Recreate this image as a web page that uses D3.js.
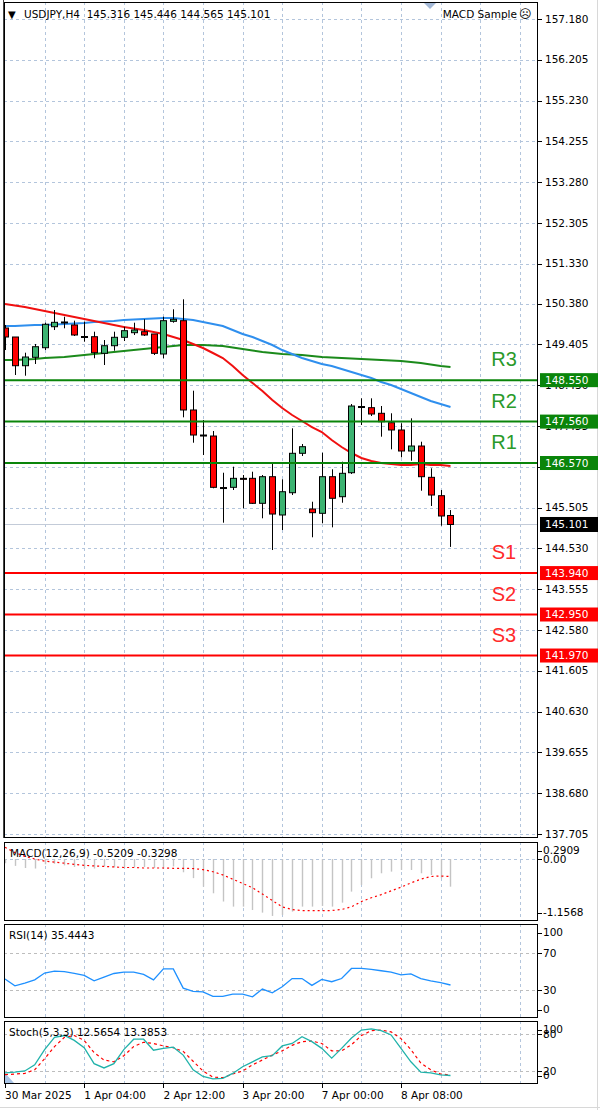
<!DOCTYPE html>
<html><head><meta charset="utf-8">
<script src="https://cdn.jsdelivr.net/npm/d3@7"></script>
<style>
body{margin:0;background:#fff;}
svg{display:block;font-family:"DejaVu Sans",sans-serif;}
</style></head><body>
<svg id="c" width="600" height="1110"></svg>
<script>
// ---------- DATA ----------
const titleText = "USDJPY,H4  145.316 145.446 144.565 145.101";
const expertText = "MACD Sample";
const openP  = [149.796,149.581,148.895,149.096,149.325,149.827,149.916,149.868,149.593,149.588,149.191,149.373,149.574,149.684,149.708,149.653,149.175,149.956,149.971,147.837,147.239,147.215,145.984,145.989,146.204,146.204,145.607,146.243,145.328,145.860,146.802,145.471,145.368,146.243,145.765,146.338,147.920,147.892,147.758,147.533,147.359,146.857,146.976,146.228,145.789,145.316];
const highP  = [149.868,149.581,149.206,149.414,149.923,150.226,150.066,149.971,149.947,149.708,149.509,149.708,149.827,149.923,150.004,149.653,150.066,150.243,150.482,148.298,147.598,147.335,146.338,146.482,146.283,146.362,146.283,146.546,146.181,147.399,147.024,145.645,146.816,146.420,146.601,147.980,148.116,148.116,147.932,147.758,147.519,147.638,147.079,146.444,145.925,145.446];
const lowP   = [149.270,148.673,148.656,148.936,149.270,149.748,149.789,149.605,149.469,149.072,148.912,149.254,149.485,149.629,149.605,149.151,149.072,149.923,147.662,147.055,146.761,145.966,145.144,145.925,145.488,145.590,145.249,144.491,144.969,145.805,146.737,144.795,145.129,145.033,145.621,146.307,147.478,147.693,147.199,146.897,146.706,146.625,145.908,145.543,145.072,144.565];
const closeP = [149.581,148.895,149.103,149.349,149.885,149.932,149.940,149.629,149.588,149.206,149.373,149.574,149.732,149.748,149.629,149.191,149.971,150.004,147.837,147.239,147.227,145.989,145.973,146.204,146.200,145.607,146.243,145.351,145.884,146.802,146.960,145.383,146.243,145.727,146.324,147.932,147.916,147.741,147.557,147.359,146.857,146.976,146.243,145.805,145.304,145.101];

const maRed   = [150.370,150.334,150.298,150.250,150.202,150.155,150.107,150.059,150.011,149.963,149.916,149.868,149.820,149.784,149.748,149.701,149.653,149.581,149.509,149.414,149.318,149.199,149.079,148.888,148.673,148.482,148.291,148.076,147.884,147.717,147.574,147.430,147.311,147.120,146.952,146.809,146.690,146.618,146.570,146.546,146.522,146.522,146.546,146.522,146.522,146.499];
const maBlue  = [149.844,149.844,149.856,149.868,149.868,149.880,149.892,149.904,149.916,149.939,149.951,149.963,149.987,149.999,150.011,150.023,150.035,150.035,150.011,149.987,149.939,149.892,149.844,149.748,149.653,149.581,149.485,149.390,149.270,149.175,149.079,149.008,148.936,148.888,148.816,148.745,148.673,148.601,148.506,148.434,148.338,148.243,148.147,148.052,147.980,147.908];
const maGreen = [149.031,149.031,149.043,149.055,149.079,149.091,149.103,149.127,149.151,149.175,149.199,149.223,149.246,149.270,149.294,149.318,149.342,149.366,149.390,149.390,149.390,149.378,149.366,149.330,149.294,149.258,149.223,149.199,149.175,149.163,149.151,149.127,149.103,149.091,149.079,149.067,149.055,149.043,149.031,149.019,149.007,148.984,148.960,148.924,148.888,148.864];

const priceTicks = ["157.180","156.205","155.230","154.255","153.280","152.305","151.330","150.380","149.405","148.430","147.455","146.480","145.505","144.530","143.555","142.580","141.605","140.630","139.655","138.680","137.705"];
const priceMin = 137.705, priceMax = 157.180;
const lastPrice = 145.101;

const levelNames  = ["R3","R2","R1","S1","S2","S3"];
const levelValues = [148.550,147.560,146.570,143.940,142.950,141.970];
const levelKinds  = ["r","r","r","s","s","s"];

const dateLabels = ["30 Mar 2025","1 Apr 04:00","2 Apr 12:00","3 Apr 20:00","7 Apr 00:00","8 Apr 08:00"];
const dateBars   = [0,8,16,24,32,40];

const macdLabel = "MACD(12,26,9) -0.5209 -0.3298";
const macdHist = [-0.08,-0.13,-0.17,-0.18,-0.10,-0.09,-0.12,-0.15,-0.17,-0.18,-0.14,-0.16,-0.17,-0.16,-0.15,-0.17,-0.16,-0.14,-0.25,-0.36,-0.52,-0.645,-0.80,-0.896,-0.896,-0.959,-1.009,-1.071,-1.053,-0.99,-0.896,-0.896,-0.883,-0.896,-0.821,-0.614,-0.489,-0.363,-0.269,-0.238,-0.207,-0.207,-0.269,-0.301,-0.363,-0.5209];
const macdSignal = [0.22,0.12,0.05,0.0,-0.04,-0.06,-0.08,-0.10,-0.12,-0.13,-0.14,-0.15,-0.16,-0.16,-0.17,-0.17,-0.17,-0.175,-0.175,-0.18,-0.20,-0.24,-0.30,-0.38,-0.46,-0.54,-0.66,-0.78,-0.90,-0.95,-0.97,-0.97,-0.97,-0.97,-0.95,-0.90,-0.80,-0.73,-0.67,-0.60,-0.53,-0.45,-0.38,-0.33,-0.32,-0.3298];
const macdTicks = ["0.2909","0.00","-1.1568"];
const macdMin = -1.1568, macdMax = 0.2909;

const rsiLabel = "RSI(14) 35.4443";
const rsiValues = [42,34.5,37.5,41,48.5,50.5,50,48,46,40,44,48,49.5,49.5,47,41,53,53,32,28.5,28,23,23,25.5,25.5,22.5,31,27,33.5,42.5,42.5,35,41.5,39,42.5,53.5,53.5,52.5,51,49.5,46.5,47.5,42.5,40,38,35.4443];
const rsiTicks = ["100","70","30","0"];

const stochLabel = "Stoch(5,3,3) 12.5654 13.3853";
const stochMain = [17,18,20,30,55,75,78,70,58,32,25,32,55,72,72,54,57,59,46,22,11,7,8,16,27,35,43,45,61,65,76,68,57,41,57,74,87,89,86,79,57,35,18,17,13.5,12.5654];
const stochSignal = [14,15,16,22,40,60,75,78,70,50,38,35,45,60,67,65,61,58,52,36,20,10,9,15,20,30,38,46,53,62,68,69,65,53,53,63,78,86,87,84,73,55,33,22,15,13.3853];
const stochTicks = ["100","80","20","0"];

// ---------- LAYOUT ----------
const svg = d3.select("#c");
const L = 4, R = 538;
const main = {top:2, bottom:838};
const pMacd = {top:842, bottom:921};
const pRsi = {top:924, bottom:1018};
const pSto = {top:1021, bottom:1084};

const x = d3.scaleLinear().domain([0,52]).range([5,519.8]);
const y = d3.scaleLinear().domain([priceMin, priceMax]).range([834,19]);
const yM = d3.scaleLinear().domain([macdMin, macdMax]).range([920.5,843.5]);
const yR = d3.scaleLinear().domain([0,100]).range([1017.5,925.8]);
const yS = d3.scaleLinear().domain([0,100]).range([1083.2,1022.1]);

const gridCol = "#b3c5dc";
const defs = svg.append("defs");
function clip(id, p){ defs.append("clipPath").attr("id",id).append("rect").attr("x",L).attr("y",p.top).attr("width",R-L).attr("height",p.bottom-p.top); }
clip("cMain", main); clip("cMacd", pMacd); clip("cRsi", pRsi); clip("cSto", pSto);

svg.append("rect").attr("width",600).attr("height",1110).attr("fill","#fff");

const vBars = d3.range(4,53,4);
[main,pMacd,pRsi,pSto].forEach(p=>{
  svg.append("g").selectAll("line").data(vBars).join("line")
    .attr("x1",d=>Math.round(x(d))+0.5).attr("x2",d=>Math.round(x(d))+0.5)
    .attr("y1",p.top).attr("y2",p.bottom)
    .attr("stroke",gridCol).attr("stroke-dasharray","3,3");
});

// main horizontal grid
svg.append("g").selectAll("line").data(priceTicks).join("line")
  .attr("x1",L).attr("x2",R)
  .attr("y1",d=>Math.round(y(+d))+0.5).attr("y2",d=>Math.round(y(+d))+0.5)
  .attr("stroke",gridCol).attr("stroke-dasharray","3,3");

// sub grids
svg.append("line").attr("x1",L).attr("x2",R).attr("y1",Math.round(yM(0))+0.5).attr("y2",Math.round(yM(0))+0.5).attr("stroke",gridCol).attr("stroke-dasharray","3,3");
[70,30].forEach(v=>svg.append("line").attr("x1",L).attr("x2",R).attr("y1",Math.round(yR(v))+0.5).attr("y2",Math.round(yR(v))+0.5).attr("stroke","#bdbdbd").attr("stroke-dasharray","3,3"));
[80,20].forEach(v=>svg.append("line").attr("x1",L).attr("x2",R).attr("y1",Math.round(yS(v))+0.5).attr("y2",Math.round(yS(v))+0.5).attr("stroke","#bdbdbd").attr("stroke-dasharray","3,3"));

// ---------- MAIN ----------
const gm = svg.append("g").attr("clip-path","url(#cMain)");
gm.append("line").attr("x1",L).attr("x2",R).attr("y1",Math.round(y(lastPrice))+0.5).attr("y2",Math.round(y(lastPrice))+0.5).attr("stroke","#c3cbd8");

const lineGen = arr => d3.line().x((d,i)=>x(i)).y(d=>y(d))(arr);
gm.append("path").attr("d",lineGen(maGreen)).attr("fill","none").attr("stroke","#1b8a1b").attr("stroke-width",2);
gm.append("path").attr("d",lineGen(maBlue)).attr("fill","none").attr("stroke","#2f8fee").attr("stroke-width",2);
gm.append("path").attr("d",lineGen(maRed)).attr("fill","none").attr("stroke","#f01010").attr("stroke-width",2);

// candles
const bars = d3.range(openP.length);
gm.append("g").selectAll("line").data(bars).join("line")
  .attr("x1",i=>Math.round(x(i))+0.5).attr("x2",i=>Math.round(x(i))+0.5)
  .attr("y1",i=>y(highP[i])).attr("y2",i=>y(lowP[i]))
  .attr("stroke","#000").attr("stroke-width",1);
gm.append("g").selectAll("rect").data(bars).join("rect")
  .attr("x",i=>Math.round(x(i))-2.5).attr("width",6)
  .attr("y",i=>Math.min(y(openP[i]),y(closeP[i])))
  .attr("height",i=>Math.max(1,Math.abs(y(openP[i])-y(closeP[i]))))
  .attr("fill",i=>closeP[i]>=openP[i]?"#3cb371":"#ff0000")
  .attr("stroke","#000").attr("stroke-width",1);

// level lines
gm.append("g").selectAll("line").data(levelValues).join("line")
  .attr("x1",L).attr("x2",R).attr("y1",d=>y(d)).attr("y2",d=>y(d))
  .attr("stroke",(d,i)=>levelKinds[i]==="r"?"#0a850a":"#ff0000").attr("stroke-width",2);
svg.append("g").selectAll("text").data(levelNames).join("text")
  .attr("x",504).attr("y",(d,i)=>y(levelValues[i])-14)
  .attr("text-anchor","middle").attr("font-family","'Liberation Sans',Arial,sans-serif")
  .attr("font-size",20)
  .attr("fill",(d,i)=>levelKinds[i]==="r"?"#2a9a2a":"#ff2a2a").text(d=>d);

// ---------- MACD ----------
const gM = svg.append("g").attr("clip-path","url(#cMacd)");
gM.append("g").selectAll("line").data(bars).join("line")
  .attr("x1",i=>Math.round(x(i))+0.5).attr("x2",i=>Math.round(x(i))+0.5)
  .attr("y1",yM(0)).attr("y2",i=>yM(macdHist[i]))
  .attr("stroke","#c4c4c4").attr("stroke-width",1.4);
gM.append("path").attr("d",d3.line().x((d,i)=>x(i)).y(d=>yM(d))(macdSignal))
  .attr("fill","none").attr("stroke","#ff0000").attr("stroke-width",1.2).attr("stroke-dasharray","2,3");

// ---------- RSI ----------
const gR = svg.append("g").attr("clip-path","url(#cRsi)");
gR.append("path").attr("d",d3.line().x((d,i)=>x(i)).y(d=>yR(d))(rsiValues))
  .attr("fill","none").attr("stroke","#1e90ff").attr("stroke-width",1.3);

// ---------- STOCH ----------
const gS = svg.append("g").attr("clip-path","url(#cSto)");
gS.append("path").attr("d","M5,1073L5,1083L14,1083Z").attr("fill","#a9c4e6");
gS.append("path").attr("d",d3.line().x((d,i)=>x(i)).y(d=>yS(d))(stochSignal))
  .attr("fill","none").attr("stroke","#ff0000").attr("stroke-width",1.2).attr("stroke-dasharray","3,3");
gS.append("path").attr("d",d3.line().x((d,i)=>x(i)).y(d=>yS(d))(stochMain))
  .attr("fill","none").attr("stroke","#20b2aa").attr("stroke-width",1.3);

// ---------- FRAMES ----------
[main,pMacd,pRsi,pSto].forEach(p=>{
  svg.append("rect").attr("x",L+0.5).attr("y",p.top+0.5).attr("width",R-L-1).attr("height",p.bottom-p.top-1)
    .attr("fill","none").attr("stroke","#000").attr("stroke-width",1);
});
svg.append("line").attr("x1",3.5).attr("x2",3.5).attr("y1",0).attr("y2",main.bottom).attr("stroke","#444");
svg.append("line").attr("x1",597.5).attr("x2",597.5).attr("y1",0).attr("y2",1110).attr("stroke","#d8d8d8");
svg.append("line").attr("x1",0).attr("x2",600).attr("y1",1107.5).attr("y2",1107.5).attr("stroke","#d8d8d8");

// ---------- AXES ----------
const fs = 10.5;
const ga = svg.append("g").attr("font-size",fs).attr("fill","#000");
ga.selectAll("line.t").data(priceTicks).join("line").attr("class","t")
  .attr("x1",R).attr("x2",R+4).attr("y1",d=>Math.round(y(+d))+0.5).attr("y2",d=>Math.round(y(+d))+0.5).attr("stroke","#000");
ga.selectAll("text.p").data(priceTicks).join("text").attr("class","p")
  .attr("x",545).attr("y",d=>y(+d)).attr("dy","0.35em").text(d=>d);

function subAxis(ticks, sc, p){
  ticks.forEach(t=>{
    const yy = Math.max(p.top+8.5, Math.min(p.bottom-8.5, sc(+t)));
    ga.append("line").attr("x1",R).attr("x2",R+4).attr("y1",Math.round(yy)+0.5).attr("y2",Math.round(yy)+0.5).attr("stroke","#000");
    ga.append("text").attr("x",543).attr("y",yy).attr("dy","0.35em").text(t);
  });
}
subAxis(macdTicks, yM, pMacd);
subAxis(rsiTicks, yR, pRsi);
subAxis(stochTicks, yS, pSto);

// level boxes and last price box
levelValues.forEach((v,i)=>{
  const yy = y(v);
  ga.append("rect").attr("x",540).attr("y",yy-7).attr("width",58).attr("height",14)
    .attr("fill",levelKinds[i]==="r"?"#0a850a":"#ff0000");
  ga.append("text").attr("x",545).attr("y",yy).attr("dy","0.35em").attr("fill","#fff").text(v.toFixed(3));
});
ga.append("rect").attr("x",540).attr("y",y(lastPrice)-7.5).attr("width",58).attr("height",15).attr("fill","#000");
ga.append("text").attr("x",545).attr("y",y(lastPrice)).attr("dy","0.35em").attr("fill","#fff").text(lastPrice.toFixed(3));

// dates
dateBars.forEach((b,i)=>{
  ga.append("line").attr("x1",Math.round(x(b))+0.5).attr("x2",Math.round(x(b))+0.5).attr("y1",pSto.bottom).attr("y2",pSto.bottom+4).attr("stroke","#000");
  ga.append("text").attr("x",x(b)).attr("y",1095).attr("dy","0.35em").text(dateLabels[i]);
});

// titles
ga.append("text").attr("x",8).attr("y",14).attr("dy","0.35em").attr("font-size",10).text("▼");
ga.append("text").attr("x",24).attr("y",14).attr("dy","0.35em").attr("xml:space","preserve").style("white-space","pre").text(titleText);
ga.append("text").attr("x",517).attr("y",14).attr("dy","0.35em").attr("text-anchor","end").text(expertText);
ga.append("text").attr("x",519).attr("y",14).attr("dy","0.35em").attr("font-size",12).text("☹");
svg.append("path").attr("d","M424,3L436,3L430,9Z").attr("fill","#a3b8d6");

ga.append("text").attr("x",10).attr("y",853).attr("dy","0.35em").text(macdLabel);
ga.append("text").attr("x",9).attr("y",935).attr("dy","0.35em").text(rsiLabel);
ga.append("text").attr("x",9).attr("y",1032).attr("dy","0.35em").text(stochLabel);
</script>
</body></html>
